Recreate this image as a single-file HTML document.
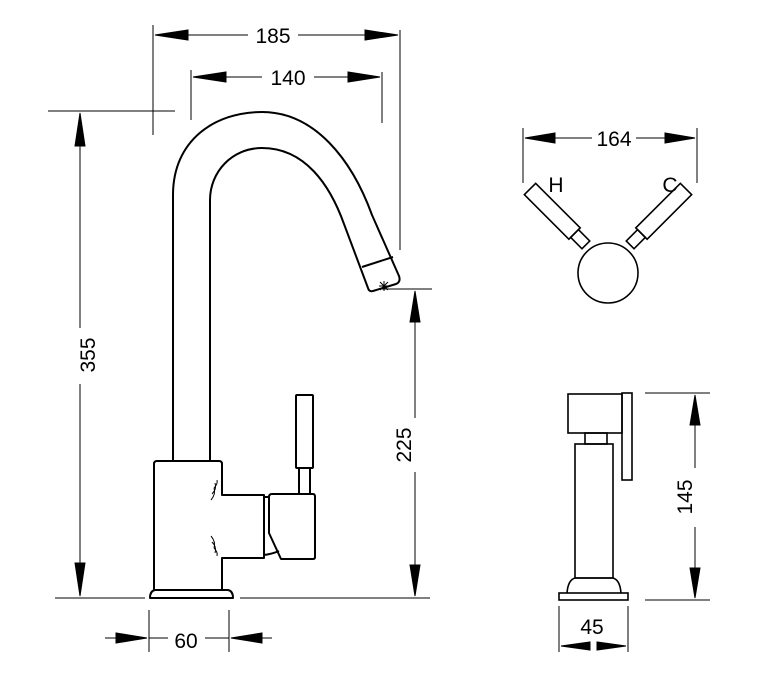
<!DOCTYPE html>
<html><head><style>html,body{margin:0;padding:0;background:#fff}svg{display:block}</style></head>
<body>
<svg width="758" height="682" viewBox="0 0 758 682" xmlns="http://www.w3.org/2000/svg" font-family="Liberation Sans, sans-serif">
<g stroke="#000" stroke-width="1" fill="none">
<!-- 185 -->
<line x1="153" y1="25" x2="153" y2="135"/><line x1="400" y1="30" x2="400" y2="250"/>
<path d="M155,35 L188,30 L188,40 Z" fill="#000"/>
<line x1="188" y1="35" x2="248" y2="35"/><line x1="298" y1="35" x2="365" y2="35"/><path d="M398,35 L365,30 L365,40 Z" fill="#000"/>
<!-- 140 -->
<line x1="191" y1="70" x2="191" y2="120"/><line x1="382" y1="72" x2="382" y2="123"/>
<path d="M193,77 L226,72 L226,82 Z" fill="#000"/><line x1="226" y1="77" x2="262" y2="77"/>
<line x1="314" y1="77" x2="348" y2="77"/><path d="M380,77 L348,72 L348,82 Z" fill="#000"/>
<!-- 355 -->
<line x1="48" y1="111" x2="175" y2="111"/>
<line x1="80" y1="146" x2="80" y2="328"/><line x1="80" y1="384" x2="80" y2="563"/>
<path d="M80,113 L75,146 L85,146 Z" fill="#000"/><path d="M80,596 L75,563 L85,563 Z" fill="#000"/>
<!-- base line -->
<line x1="55" y1="598" x2="145" y2="598"/><line x1="240" y1="598" x2="430" y2="598"/>
<!-- 225 -->
<line x1="382" y1="289" x2="432" y2="289"/>
<line x1="415" y1="320" x2="415" y2="418"/><line x1="415" y1="472" x2="415" y2="565"/>
<path d="M415,291 L410,322 L420,322 Z" fill="#000"/><path d="M415,596 L410,565 L420,565 Z" fill="#000"/>
<!-- 60 -->
<line x1="149" y1="610" x2="149" y2="652"/><line x1="229" y1="610" x2="229" y2="652"/>
<line x1="105" y1="638" x2="120" y2="638"/><path d="M147,638 L116,633 L116,643 Z" fill="#000"/>
<line x1="258" y1="638" x2="272" y2="638"/><path d="M231,638 L262,633 L262,643 Z" fill="#000"/>
<line x1="149" y1="638" x2="168" y2="638"/><line x1="205" y1="638" x2="229" y2="638"/>
</g>
<g stroke="#000" stroke-width="2" fill="none" stroke-linejoin="round">
<!-- spout -->
<path d="M173,461 L173,195 C173,140 215,112 262,112 C315,112 352,160 372,215 L399,276 Q401,282 396,284 L373,291 Q369,292 368,288 L344,224 C330,185 305,148 262,148 C232,148 210,172 210,200 L210,461"/>
<line x1="362" y1="267" x2="393" y2="257"/>
<!-- body -->
<path d="M154,590 L154,464 Q154,461 157,461 L219,461 Q222,461 222,464 L222,495 L264,495 L264,558 L222,558 L222,590"/>
<path d="M150,598 L233,598 Q233,591 228,590 L155,590 Q150,591 150,598 Z"/>
<path d="M269,497 Q269,494 272,494 L313,494 Q315,494 315,497 L315,557 Q315,559 313,559 L281,559 L269,533 Z"/>
<path d="M264,497 L269,497 M264,555 Q272,554 279,551"/>
<rect x="296" y="395" width="17" height="73" rx="1"/>
<path d="M299,468 L299,494 M310,468 L310,494"/>
</g>
<g stroke="#000" stroke-width="1" fill="none">
<path d="M214,488 Q218,484 217,480 M212,494 Q217,489 215,483 M211,500 Q216,494 214,488"/>
<path d="M214,548 Q218,552 217,556 M212,542 Q217,547 215,553 M211,536 Q216,542 214,548"/>
<path d="M379,286 l10,0 M384,281 l0,10 M380,282 l8,8 M388,282 l-8,8"/>
</g>
<!-- right views dims -->
<g stroke="#000" stroke-width="1" fill="none">
<line x1="523" y1="128" x2="523" y2="183"/><line x1="697" y1="128" x2="697" y2="183"/>
<path d="M525,138 L555,133 L555,143 Z" fill="#000"/><line x1="555" y1="138" x2="592" y2="138"/>
<line x1="636" y1="138" x2="665" y2="138"/><path d="M695,138 L665,133 L665,143 Z" fill="#000"/>
<line x1="645" y1="393" x2="710" y2="393"/><line x1="645" y1="600" x2="710" y2="600"/>
<line x1="695" y1="425" x2="695" y2="468"/><line x1="695" y1="527" x2="695" y2="570"/>
<path d="M695,395 L690,425 L700,425 Z" fill="#000"/><path d="M695,598 L690,568 L700,568 Z" fill="#000"/>
<line x1="559" y1="606" x2="559" y2="652"/><line x1="628" y1="606" x2="628" y2="652"/>
<path d="M561,646 L590,642 L590,650 Z" fill="#000"/><path d="M626,646 L597,642 L597,650 Z" fill="#000"/>
</g>
<g stroke="#000" stroke-width="1.6" fill="none">
<circle cx="608" cy="273" r="30"/>
<g transform="translate(530,189) rotate(45)"><rect x="0" y="-8" width="63" height="16"/><rect x="63" y="-5.5" width="16" height="11"/></g>
<g transform="translate(686,189) rotate(135)"><rect x="0" y="-8" width="63" height="16"/><rect x="63" y="-5.5" width="16" height="11"/></g>
<rect x="568" y="394" width="54" height="39"/>
<rect x="622" y="393" width="10" height="87"/>
<rect x="585" y="433" width="22" height="11"/>
<rect x="575" y="444" width="38" height="134"/>
<path d="M567,593 Q568,580 575,578 L613,578 Q620,580 621,593"/>
<rect x="559" y="593" width="69" height="7"/>
</g>
<g font-size="21" fill="#000">
<text x="273" y="43" text-anchor="middle">185</text>
<text x="288" y="85" text-anchor="middle">140</text>
<text x="614" y="146" text-anchor="middle">164</text>
<text x="186" y="648" text-anchor="middle">60</text>
<text x="592" y="634" text-anchor="middle">45</text>
<text x="556" y="192" text-anchor="middle">H</text>
<text x="670" y="192" text-anchor="middle">C</text>
<text transform="translate(95,355) rotate(-90)" text-anchor="middle">355</text>
<text transform="translate(411,445) rotate(-90)" text-anchor="middle">225</text>
<text transform="translate(692,497) rotate(-90)" text-anchor="middle">145</text>
</g>
</svg>
</body></html>
